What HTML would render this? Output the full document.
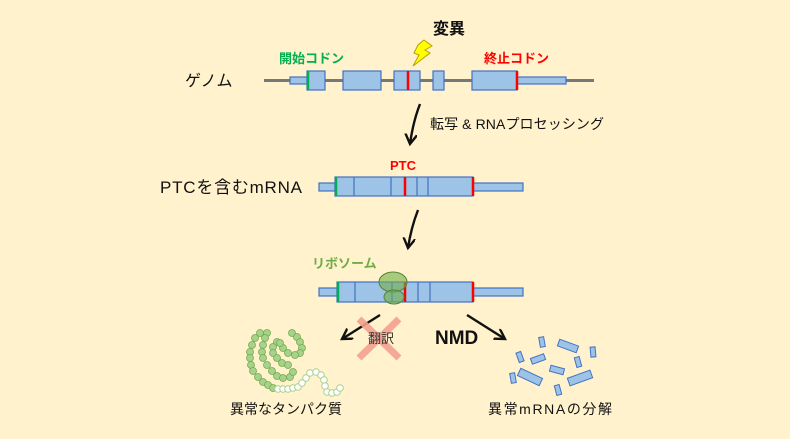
<!DOCTYPE html>
<html><head><meta charset="utf-8"><style>
html,body{margin:0;padding:0;background:#FFF2CC;}
svg{display:block}
text{font-family:"Liberation Sans","Noto Sans CJK JP",sans-serif;}
</style></head><body>
<svg width="790" height="439" viewBox="0 0 790 439" xmlns="http://www.w3.org/2000/svg">
<rect width="790" height="439" fill="#FFF2CC"/>
<defs>
<marker id="ah" markerWidth="14" markerHeight="14" refX="10" refY="6" orient="auto" markerUnits="userSpaceOnUse">
<path d="M0,0 L10,6 L0,12" fill="none" stroke="#111" stroke-width="2.4"/>
</marker>
</defs>
<g stroke="#4472C4" stroke-width="1.2" fill="#9DC3E6">
<line x1="264" y1="80.5" x2="594" y2="80.5" stroke="#777" stroke-width="3"/>
<rect x="290" y="77" width="17" height="7"/>
<rect x="307" y="71" width="18" height="19"/>
<rect x="343" y="71" width="38" height="19"/>
<rect x="394" y="71" width="26" height="19"/>
<rect x="433" y="71" width="11" height="19"/>
<rect x="472" y="71" width="45" height="19"/>
<rect x="517" y="77" width="49" height="7"/>
<rect x="319" y="183" width="16" height="8"/>
<rect x="335" y="177" width="138" height="19"/>
<rect x="473" y="183" width="50" height="8"/>
<line x1="354" y1="177" x2="354" y2="196"/><line x1="391" y1="177" x2="391" y2="196"/>
<line x1="417" y1="177" x2="417" y2="196"/><line x1="428" y1="177" x2="428" y2="196"/>
<rect x="319" y="288" width="18" height="8"/>
<rect x="337" y="282" width="136" height="20"/>
<rect x="473" y="288" width="50" height="8"/>
<line x1="355" y1="282" x2="355" y2="302"/><line x1="392" y1="282" x2="392" y2="302"/>
<line x1="418" y1="282" x2="418" y2="302"/><line x1="430" y1="282" x2="430" y2="302"/>
</g>
<g stroke-width="2.5">
<line x1="308" y1="71" x2="308" y2="90" stroke="#00B050"/>
<line x1="408" y1="71" x2="408" y2="90" stroke="#FF0000"/>
<line x1="517" y1="71" x2="517" y2="90" stroke="#FF0000"/>
<line x1="336" y1="177" x2="336" y2="196" stroke="#00B050"/>
<line x1="405" y1="177" x2="405" y2="196" stroke="#FF0000"/>
<line x1="473" y1="177" x2="473" y2="196" stroke="#FF0000"/>
<line x1="338" y1="282" x2="338" y2="302" stroke="#00B050"/>
<line x1="405" y1="282" x2="405" y2="302" stroke="#FF0000"/>
<line x1="473" y1="282" x2="473" y2="302" stroke="#FF0000"/>
</g>
<ellipse cx="393" cy="282" rx="14" ry="10" fill="#70AD47" fill-opacity="0.6" stroke="#548235"/>
<ellipse cx="394" cy="297" rx="10" ry="7" fill="#70AD47" fill-opacity="0.6" stroke="#548235"/>
<path d="M424,40 L432,46 L425,50 L430,53 L413,66 L419,55 L414,53 L418,45 Z" fill="#FFFF00" stroke="#B8A000" stroke-width="1"/>
<g stroke="#111" stroke-width="2.4" fill="none">
<path d="M420,104 Q413,122 410,144" marker-end="url(#ah)"/>
<path d="M418,210 Q411,228 408,248" marker-end="url(#ah)"/>
<line x1="380" y1="315" x2="342" y2="339" marker-end="url(#ah)"/>
<line x1="467" y1="315" x2="505" y2="339" marker-end="url(#ah)"/>
</g>
<g stroke="#F4A090" stroke-width="7" stroke-opacity="0.9">
<line x1="359" y1="319" x2="399" y2="358"/><line x1="399" y1="319" x2="359" y2="358"/>
</g>
<text x="185" y="86" font-size="16" fill="#111">ゲノム</text>
<text x="279" y="63" font-size="13" font-weight="bold" fill="#00B050">開始コドン</text>
<text x="484" y="63" font-size="13" font-weight="bold" fill="#FF0000">終止コドン</text>
<text x="433" y="34" font-size="16" font-weight="bold" fill="#111">変異</text>
<text x="430" y="129" font-size="14" fill="#111" textLength="174">転写 &amp; RNAプロセッシング</text>
<text x="390" y="170" font-size="13" font-weight="bold" fill="#FF0000">PTC</text>
<text x="160" y="193" font-size="17" fill="#111" textLength="142">PTCを含むmRNA</text>
<text x="312" y="268" font-size="13" font-weight="bold" fill="#70AD47">リボソーム</text>
<text x="368" y="343" font-size="13" fill="#333">翻訳</text>
<text x="435" y="344" font-size="19" font-weight="bold" fill="#111">NMD</text>
<text x="230" y="414" font-size="14" fill="#111" textLength="112">異常なタンパク質</text>
<text x="488" y="414" font-size="14" fill="#111" textLength="124">異常mRNAの分解</text>
<g fill="#A9D18E" stroke="#70AD47" stroke-width="0.8">
<circle cx="260" cy="333" r="3.5"/><circle cx="267" cy="333" r="3.5"/><circle cx="255" cy="338" r="3.5"/>
<circle cx="252" cy="345" r="3.5"/><circle cx="250" cy="352" r="3.5"/><circle cx="250" cy="358" r="3.5"/>
<circle cx="251" cy="365" r="3.5"/><circle cx="253" cy="371" r="3.5"/><circle cx="258" cy="377" r="3.5"/>
<circle cx="263" cy="382" r="3.5"/><circle cx="268" cy="385" r="3.5"/><circle cx="273" cy="388" r="3.5"/>
<circle cx="265" cy="338" r="3.5"/><circle cx="263" cy="345" r="3.5"/><circle cx="262" cy="352" r="3.5"/>
<circle cx="263" cy="358" r="3.5"/><circle cx="267" cy="365" r="3.5"/><circle cx="272" cy="371" r="3.5"/>
<circle cx="277" cy="376" r="3.5"/><circle cx="283" cy="378" r="3.5"/><circle cx="290" cy="377" r="3.5"/>
<circle cx="293" cy="372" r="3.5"/>
<circle cx="277" cy="342" r="3.5"/><circle cx="273" cy="347" r="3.5"/><circle cx="273" cy="353" r="3.5"/>
<circle cx="277" cy="358" r="3.5"/><circle cx="282" cy="363" r="3.5"/><circle cx="288" cy="365" r="3.5"/>
<circle cx="292" cy="333" r="3.5"/><circle cx="297" cy="337" r="3.5"/><circle cx="300" cy="342" r="3.5"/>
<circle cx="302" cy="348" r="3.5"/><circle cx="300" cy="353" r="3.5"/><circle cx="295" cy="355" r="3.5"/>
<circle cx="288" cy="353" r="3.5"/><circle cx="283" cy="348" r="3.5"/><circle cx="280" cy="343" r="3.5"/>
</g>
<g fill="#FFFFFF" stroke="#A9D18E" stroke-width="1">
<circle cx="278" cy="389" r="3.3"/><circle cx="283" cy="389" r="3.3"/><circle cx="288" cy="389" r="3.3"/>
<circle cx="293" cy="388" r="3.3"/><circle cx="298" cy="387" r="3.3"/><circle cx="302" cy="383" r="3.3"/>
<circle cx="306" cy="378" r="3.3"/><circle cx="310" cy="373" r="3.3"/><circle cx="316" cy="372" r="3.3"/>
<circle cx="321" cy="375" r="3.3"/><circle cx="324" cy="380" r="3.3"/><circle cx="325" cy="386" r="3.3"/>
<circle cx="327" cy="392" r="3.3"/><circle cx="332" cy="393" r="3.3"/><circle cx="337" cy="392" r="3.3"/>
<circle cx="340" cy="388" r="3.3"/>
</g>
<g fill="#9DC3E6" stroke="#4472C4" stroke-width="1">
<rect x="-2.5" y="-5" width="5" height="10" transform="translate(542,342) rotate(-10)"/>
<rect x="-10" y="-3.5" width="20" height="7" transform="translate(568,346) rotate(20)"/>
<rect x="-2.5" y="-5" width="5" height="10" transform="translate(593,352) rotate(-5)"/>
<rect x="-2.5" y="-5" width="5" height="10" transform="translate(520,357) rotate(-20)"/>
<rect x="-7" y="-3" width="14" height="6" transform="translate(538,359) rotate(-20)"/>
<rect x="-2.5" y="-5" width="5" height="10" transform="translate(578,362) rotate(-15)"/>
<rect x="-7" y="-3" width="14" height="6" transform="translate(557,370) rotate(15)"/>
<rect x="-12" y="-4" width="24" height="8" transform="translate(530,377) rotate(25)"/>
<rect x="-12" y="-4" width="24" height="8" transform="translate(580,378) rotate(-20)"/>
<rect x="-2.5" y="-5" width="5" height="10" transform="translate(513,378) rotate(-10)"/>
<rect x="-2.5" y="-5" width="5" height="10" transform="translate(558,390) rotate(-15)"/>
</g>
</svg>
</body></html>
